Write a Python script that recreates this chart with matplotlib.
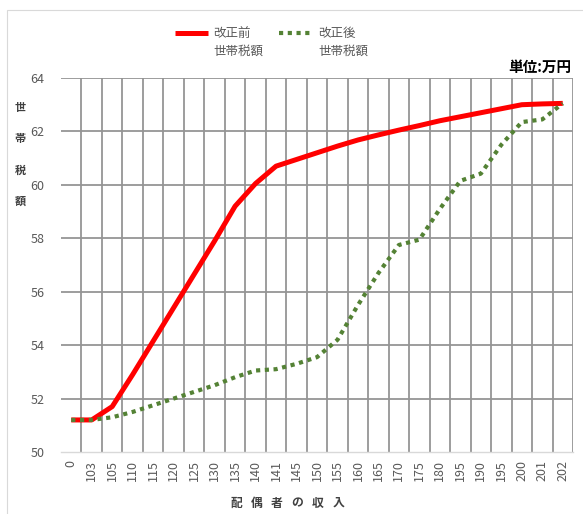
import numpy as np
import matplotlib.pyplot as plt
from matplotlib.lines import Line2D
from matplotlib.patches import Rectangle

plt.rcParams['font.family'] = ['Noto Sans CJK JP', 'DejaVu Sans']

# 配偶者の収入 (categories as printed on the axis)
income = ["0", "103", "105", "110", "115", "120", "125", "130", "135", "140",
          "141", "145", "150", "155", "160", "165", "170", "175", "180", "195",
          "190", "195", "200", "201", "202"]

# 世帯税額 (万円)
tax_before = [51.2, 51.2, 51.7, 52.9, 54.15, 55.4, 56.65, 57.9, 59.2, 60.05,
              60.7, 60.95, 61.2, 61.45, 61.68, 61.87, 62.05, 62.22, 62.4, 62.55,
              62.7, 62.85, 63.0, 63.03, 63.05]
tax_after = [51.2, 51.2, 51.3, 51.5, 51.75, 52.0, 52.25, 52.5, 52.8, 53.05,
             53.1, 53.3, 53.55, 54.2, 55.5, 56.7, 57.75, 57.95, 59.1, 60.15,
             60.42, 61.5, 62.35, 62.45, 63.05]

W, H = 583, 514
fig = plt.figure(figsize=(W / 100, H / 100), dpi=100)

# light chart-area frame
fig.patches.append(Rectangle((7 / W, -0.1), 1.2, (H - 10) / H + 0.1,
                             transform=fig.transFigure, fill=False,
                             edgecolor='#d9d9d9', lw=0.8))

ax = fig.add_axes([61 / W, (H - 452) / H, 512 / W, 374 / H])
x = np.arange(len(income))

ax.plot(x, tax_before, color='#ff0000', lw=3.6, solid_capstyle='butt', zorder=3)
ax.plot(x, tax_after, color='#548235', lw=3.0, linestyle=(0, (1, 1.1)),
        dash_capstyle='butt', zorder=3)

ax.set_xlim(-0.5, len(income) - 0.5)
ax.set_ylim(50, 64)
ax.set_yticks(np.arange(50, 65, 2))
ax.set_xticks(x)
ax.set_xticklabels(income, rotation=90)

grid = '#959595'
for yv in range(52, 65, 2):
    ax.axhline(yv, color=grid, lw=1.3, zorder=1)
for xv in np.arange(0.5, len(income), 1):
    ax.axvline(xv, color=grid, lw=1.3, zorder=1)

for s in ['left', 'right', 'top']:
    ax.spines[s].set_visible(False)
ax.spines['bottom'].set_color('#d9d9d9')
ax.spines['bottom'].set_linewidth(1.0)
ax.tick_params(which='both', length=0, labelsize=9, colors='#595959')
ax.tick_params(axis='x', pad=6)
ax.tick_params(axis='y', pad=12)

# y-axis title, stacked vertically
for i, ch in enumerate("世帯税額"):
    fig.text(20 / W, 1 - (107 + i * 31.5) / H, ch, fontsize=8, fontweight='bold',
             color='#404040', ha='center', va='center')

# x-axis title, widely spaced characters
for i, ch in enumerate("配偶者の収入"):
    fig.text((236 + i * 20.5) / W, 1 - 503 / H, ch, fontsize=8.5,
             fontweight='bold', color='#404040', ha='center', va='center')

fig.text(571 / W, 1 - 67 / H, "単位:万円", fontsize=10.5, fontweight='bold',
         color='black', ha='right', va='center')

# legend
fig.add_artist(Line2D([175 / W, 208 / W], [1 - 33 / H] * 2, color='#ff0000',
                      lw=3.6, solid_capstyle='butt'))
fig.add_artist(Line2D([279 / W, 313 / W], [1 - 33 / H] * 2, color='#548235',
                      lw=3.0, linestyle=(0, (1, 1.1)), dash_capstyle='butt'))
for x0, lab in [(213, "改正前"), (318, "改正後")]:
    fig.text(x0 / W, 1 - 33 / H, lab, fontsize=9, color='#595959', va='center')
    fig.text(x0 / W, 1 - 51 / H, "世帯税額", fontsize=9, color='#595959', va='center')

fig.savefig('out.png', dpi=100)
